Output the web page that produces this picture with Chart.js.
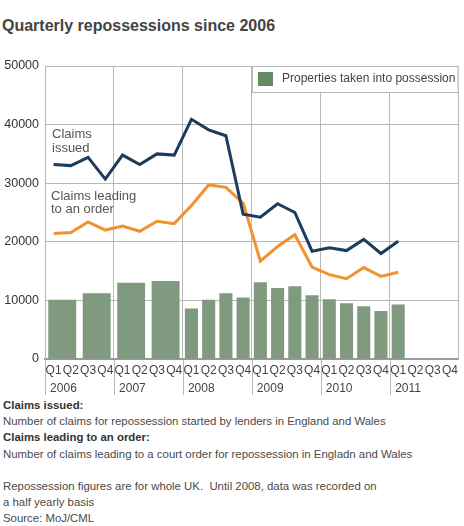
<!DOCTYPE html>
<html>
<head>
<meta charset="utf-8">
<script src="https://cdn.jsdelivr.net/npm/chart.js@4.4.1/dist/chart.umd.min.js"></script>
<style>
body { margin: 0; width: 464px; height: 526px; background: #fff; position: relative; overflow: hidden;
       font-family: "Liberation Sans", Arial, sans-serif; }
#title { position: absolute; left: 2px; top: 17px; font-size: 16px; font-weight: bold; color: #444; }
#wrap { position: absolute; left: 0; top: 40px; width: 464px; height: 355px; }
#notes { position: absolute; left: 3px; top: 397px; font-size: 11.4px; line-height: 16.2px; color: #4a4a4a; }
#notes b { color: #333; }
</style>
</head>
<body>
<div id="title">Quarterly repossessions since 2006</div>
<div id="wrap"><canvas id="chart"></canvas></div>
<div id="notes">
<b>Claims issued:</b><br>
Number of claims for repossession started by lenders in England and Wales<br>
<b>Claims leading to an order:</b><br>
Number of claims leading to a court order for repossession in Engladn and Wales<br>
<br>
Repossession figures are for whole UK.&nbsp; Until 2008, data was recorded on<br>
a half yearly basis<br>
Source: MoJ/CML
</div>
<script>
const quarters = ['Q1','Q2','Q3','Q4','Q1','Q2','Q3','Q4','Q1','Q2','Q3','Q4',
                  'Q1','Q2','Q3','Q4','Q1','Q2','Q3','Q4','Q1','Q2','Q3','Q4'];
const years = ['2006','2007','2008','2009','2010','2011'];
const halfYears = ['H1 2006','H2 2006','H1 2007','H2 2007','H1 2008','H2 2008',
                   'H1 2009','H2 2009','H1 2010','H2 2010','H1 2011','H2 2011'];
const yTicks = [0, 10000, 20000, 30000, 40000, 50000];

// possessions: half yearly until 2008, quarterly after
const possessionsHalfYearly = [10100, 11200, 13000, 13300, null, null, null, null, null, null, null, null];
const possessionsQuarterly = [null, null, null, null, null, null, null, null,
                              8600, 10100, 11200, 10500, 13100, 12100, 12400, 10900,
                              10200, 9500, 9000, 8200, 9300, null, null, null];
const claimsIssued = [33200, 33000, 34400, 30700, 34800, 33200, 35000, 34800,
                      40900, 39100, 38100, 24700, 24200, 26500, 25000, 18400,
                      19000, 18500, 20400, 18000, 20100, null, null, null];
const claimsToOrder = [21400, 21600, 23400, 22000, 22700, 21800, 23500, 23100,
                       26200, 29700, 29300, 26600, 16700, 19200, 21200, 15700,
                       14400, 13700, 15600, 14100, 14800, null, null, null];

const gridCol = '#b8b8b8';
const barCol = '#809a80';
const font = '"Liberation Sans", Arial, sans-serif';

// legend box, line labels and year separators below the axis
const extras = {
  id: 'extras',
  afterDraw(chart) {
    const {ctx, chartArea, scales} = chart;
    const x = scales.x, y = scales.y;
    ctx.save();

    ctx.strokeStyle = gridCol;
    ctx.lineWidth = 1;
    const step = x.getPixelForTick(1) - x.getPixelForTick(0);
    for (let i = 0; i < quarters.length; i += 4) {
      const px = Math.round(x.getPixelForTick(i) - step / 2) + 0.5;
      ctx.beginPath();
      ctx.moveTo(px, chartArea.bottom + 1);
      ctx.lineTo(px, chartArea.bottom + 42);
      ctx.stroke();
    }

    const left = Math.round(x.getPixelForTick(12) - step / 2);
    const top = chartArea.top;
    ctx.fillStyle = '#fff';
    ctx.fillRect(left, top, chartArea.right - left, 26);
    ctx.strokeRect(left + 0.5, top + 0.5, chartArea.right - left - 1, 26);
    ctx.fillStyle = '#638c63';
    ctx.fillRect(left + 6, top + 6, 15, 14);
    ctx.fillStyle = '#444';
    ctx.font = '12px ' + font;
    ctx.textBaseline = 'middle';
    ctx.fillText(chart.data.datasets[0].label, left + 30, top + 13);

    ctx.fillStyle = '#555';
    ctx.font = '13px ' + font;
    const lx = chartArea.left + 7;
    ctx.fillText('Claims', lx, y.getPixelForValue(38300));
    ctx.fillText('issued', lx, y.getPixelForValue(36000));
    ctx.fillText('Claims leading', lx - 1, y.getPixelForValue(27800));
    ctx.fillText('to an order', lx - 1, y.getPixelForValue(25500));
    ctx.restore();
  }
};

new Chart(document.getElementById('chart'), {
  type: 'bar',
  data: {
    labels: quarters,
    datasets: [
      { label: 'Properties taken into possession', data: possessionsQuarterly, xAxisID: 'x', grouped: false,
        backgroundColor: barCol, barPercentage: 0.76, categoryPercentage: 1, order: 2 },
      { label: 'Properties taken into possession (half yearly)', data: possessionsHalfYearly, xAxisID: 'xHalf', grouped: false,
        backgroundColor: barCol, barPercentage: 0.81, categoryPercentage: 1, order: 2 },
      { type: 'line', label: 'Claims issued', data: claimsIssued, xAxisID: 'x',
        borderColor: '#1c3c5c', borderWidth: 3, pointRadius: 0, tension: 0, order: 1 },
      { type: 'line', label: 'Claims leading to an order', data: claimsToOrder, xAxisID: 'x',
        borderColor: '#f0922e', borderWidth: 3, pointRadius: 0, tension: 0, order: 1 }
    ]
  },
  options: {
    responsive: true,
    maintainAspectRatio: false,
    animation: false,
    layout: { padding: { top: 26, right: 5, left: 0, bottom: 0 } },
    plugins: { legend: { display: false }, tooltip: { enabled: false } },
    scales: {
      x: {
        type: 'category', labels: quarters, position: 'bottom', weight: 0, offset: true,
        grid: {
          offset: true, drawTicks: false, lineWidth: 1,
          color: c => (c.index !== undefined && c.index % 4 === 0) ? gridCol : 'rgba(0,0,0,0)'
        },
        border: { color: '#999', width: 2 },
        ticks: { autoSkip: false, maxRotation: 0, padding: 6, color: '#444', font: { family: font, size: 12, lineHeight: 1 } }
      },
      xYear: {
        type: 'category', labels: years, position: 'bottom', weight: 1, offset: true,
        grid: { display: false, drawTicks: false },
        border: { display: false },
        ticks: { padding: 0, labelOffset: -16, color: '#444', font: { family: font, size: 12, lineHeight: 1 } }
      },
      xHalf: {
        type: 'category', labels: halfYears, display: false, offset: true,
        grid: { display: false }
      },
      y: {
        min: 0, max: 50000,
        afterBuildTicks: s => { s.ticks = yTicks.map(v => ({ value: v })); },
        afterFit: s => { s.width = 45; },
        grid: { color: gridCol, drawTicks: false },
        border: { color: gridCol, width: 1 },
        ticks: { padding: 6, color: '#333', font: { family: font, size: 12.5 }, callback: v => String(v) }
      },
      yRight: {
        position: 'right', min: 0, max: 50000,
        grid: { drawOnChartArea: false, drawTicks: false },
        border: { color: gridCol, width: 1 },
        ticks: { display: false }
      }
    }
  },
  plugins: [extras]
});
</script>
</body>
</html>
